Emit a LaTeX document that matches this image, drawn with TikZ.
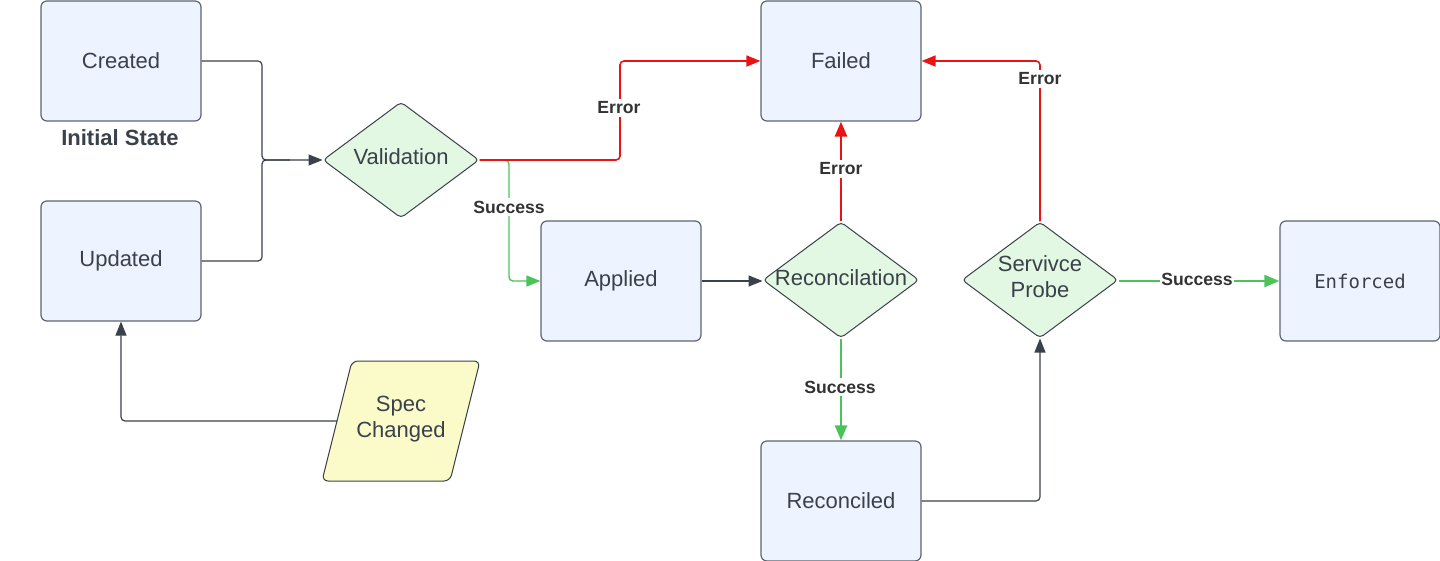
\documentclass[tikz,border=0pt]{standalone}
\usepackage{fontspec}
\setmainfont{Liberation Sans}
\newfontfamily\monofont{DejaVu Sans Mono}
\usetikzlibrary{shapes.geometric,arrows.meta}
\definecolor{boxfill}{HTML}{EDF4FF}
\definecolor{boxline}{HTML}{5E6570}
\definecolor{dfill}{HTML}{E2F8E2}
\definecolor{dline}{HTML}{3A414A}
\definecolor{pfill}{HTML}{FBFBC9}
\definecolor{txt}{HTML}{3A414A}
\definecolor{lbl}{HTML}{333333}
\definecolor{errred}{HTML}{E81313}
\definecolor{okgreen}{HTML}{4CC35A}
\definecolor{conn}{HTML}{3A414A}
\begin{document}
\begin{tikzpicture}[x=0.5pt,y=-0.5pt,
  statebox/.style={draw=boxline,fill=boxfill,line width=0.6pt,rounded corners=3pt,
    minimum width=80pt,minimum height=60pt,inner sep=0pt,text=txt,
    font=\fontsize{11}{13}\selectfont},
  decision/.style={diamond,draw=dline,fill=dfill,line width=0.5pt,rounded corners=2pt,
    minimum width=78pt,minimum height=58pt,aspect=1.36,inner sep=0pt},
  dtext/.style={text=txt,font=\fontsize{11}{13}\selectfont,align=center,inner sep=0pt},
  lab/.style={fill=white,inner sep=1.5pt,text=lbl,font=\bfseries\fontsize{8.8}{10}\selectfont},
  tipsmall/.style={-{Triangle[length=7pt,width=5.5pt]}},
  tipbig/.style={-{Triangle[length=7.5pt,width=6pt]}},
  darkconn/.style={draw=conn,line width=0.6pt,rounded corners=2pt,tipsmall},
  redconn/.style={draw=errred,line width=0.8pt,rounded corners=2pt,tipsmall},
  redthick/.style={draw=errred,line width=1.2pt,tipbig},
  greenconn/.style={draw=okgreen,line width=0.7pt,rounded corners=2pt,tipsmall},
  greenthick/.style={draw=okgreen,line width=1.2pt,tipbig},
]
\useasboundingbox (0,0) rectangle (1440,561);

% nodes
\node[statebox] (created) at (121,61) {Created};
\node[text=txt,font=\bfseries\fontsize{11}{13}\selectfont] (initial) at (120,138) {Initial State};
\node[statebox] (updated) at (121,261) {Updated};
\node[decision] (validation) at (401,160) {};
\node[dtext] (validationtxt) at (401,157) {Validation};
\node[statebox] (applied) at (621,281) {Applied};
\node[statebox] (failed) at (841,61) {Failed};
\node[decision] (recon) at (841,280) {};
\node[dtext] (recontxt) at (841,277.5) {Reconcilation};
\node[decision] (probe) at (1040,280) {};
\node[dtext] (probetxt) at (1040,277) {Servivce\\Probe};
\node[statebox,font=\monofont\fontsize{9.5}{11}\selectfont] (enforced) at (1360,281) {Enforced};
\node[statebox] (reconciled) at (841,501) {Reconciled};

% parallelogram
\draw[draw=dline,fill=pfill,line width=0.5pt,rounded corners=3pt]
  (352,361) -- (480,361) -- (450,481) -- (322,481) -- cycle;
\node[text=txt,font=\fontsize{11}{13}\selectfont,align=center] (spec) at (401,419) {Spec\\Changed};
\coordinate (specL) at (337,421);

% connectors
\draw[darkconn] (created.east) -- (262,61) -- (262,160) -- (validation.west);
\draw[draw=conn,line width=0.6pt,rounded corners=2pt] (updated.east) -- (262,261) -- (262,160) -- (290,160);

\draw[greenconn] (validation.east) -- (509,160) -- (509,281) -- (applied.west);
\draw[redconn] (validation.east) -- (620,160) -- (620,61) -- (failed.west);
\node[lab] (l1) at (619,108) {Error};
\node[lab] (l2) at (509,207) {Success};

\draw[darkconn] (applied.east) -- (applied.east -| recon.west);

\draw[redthick] (recon.north) -- (failed.south);
\node[lab] (l3) at (841,169) {Error};

\draw[greenthick] (recon.south) -- (reconciled.north);
\node[lab] (l4) at (840,387) {Success};

\draw[darkconn] (reconciled.east) -- (1040,501) -- (probe.south);

\draw[redconn] (probe.north) -- (1040,61) -- (failed.east);
\node[lab] (l5) at (1040,79) {Error};

\draw[greenthick] (probe.east |- enforced.west) -- (enforced.west);
\node[lab,inner sep=0.5pt] (l6) at (1197,279) {Success};

\draw[darkconn] (specL) -- (121,421) -- (updated.south);
\end{tikzpicture}
\end{document}
